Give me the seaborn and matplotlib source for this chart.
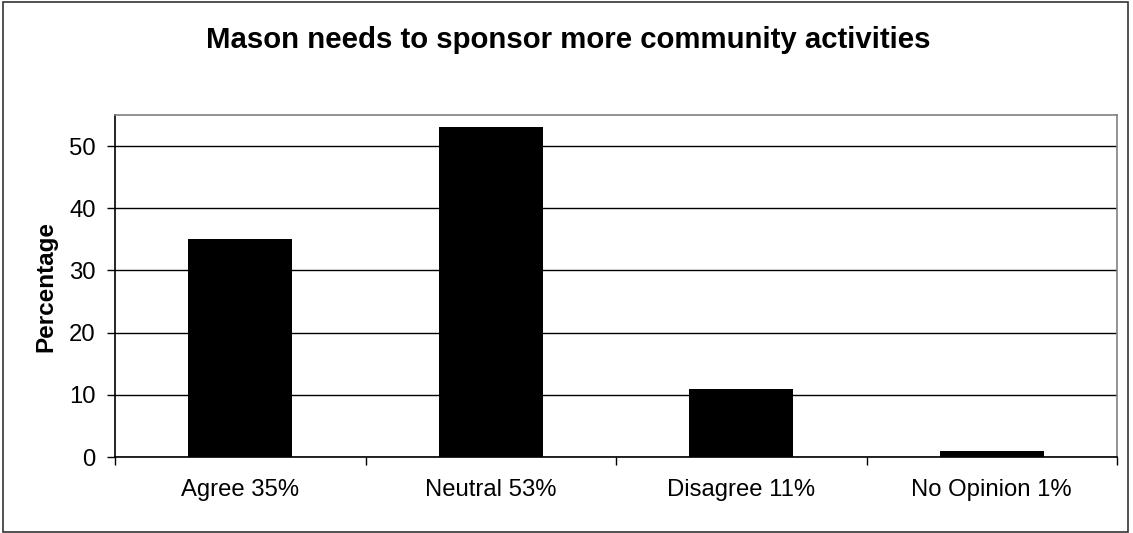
import matplotlib
matplotlib.use("Agg")
import matplotlib.pyplot as plt
import seaborn as sns
import pandas as pd
from matplotlib.patches import Rectangle

categories = ["Agree 35%", "Neutral 53%", "Disagree 11%", "No Opinion 1%"]
values = [35, 53, 11, 1]
y_ticks = [0, 10, 20, 30, 40, 50]
title = "Mason needs to sponsor more community activities"
ylabel = "Percentage"

sns.set_theme(style="white")
plt.rcParams['font.family'] = ['Liberation Sans', 'DejaVu Sans']

W, H = 1133, 533
fig = plt.figure(figsize=(W / 100, H / 100), dpi=100)
left, right, top, bottom = 115, 1117, 115, 457
ax = fig.add_axes([left / W, (H - bottom) / H, (right - left) / W, (bottom - top) / H])

df = pd.DataFrame({"cat": categories, "val": values})
sns.barplot(data=df, x="cat", y="val", color="black", width=0.415,
            edgecolor="black", linewidth=0, saturation=1, ax=ax, zorder=3)

ax.set_xlim(-0.5, len(categories) - 0.5)
ax.set_ylim(0, 55)
ax.set_yticks(y_ticks)
ax.yaxis.grid(True, color="black", linewidth=1.0, zorder=0)
ax.set_axisbelow(True)
ax.set_xticks(range(len(categories)))
ax.set_xticklabels(categories)
ax.set_xticks([i - 0.5 for i in range(len(categories) + 1)], minor=True)
ax.tick_params(axis="x", which="major", length=0, pad=16, labelsize=17.2, colors="black")
ax.tick_params(axis="x", which="minor", length=6, width=1, color="black", direction="out", bottom=True)
ax.tick_params(axis="y", which="major", length=6, width=1, color="black", direction="out",
               left=True, pad=8, labelsize=17.2, labelcolor="black")
ax.set_xlabel("")
ax.set_ylabel(ylabel, fontsize=17.5, fontweight="bold", labelpad=8, color="black")

for s in ["left", "bottom"]:
    ax.spines[s].set_color("black")
    ax.spines[s].set_linewidth(1.2)
for s in ["top", "right"]:
    ax.spines[s].set_color("#808080")
    ax.spines[s].set_linewidth(1.2)
    ax.spines[s].set_visible(True)

fig.text(568 / W, 1 - 40 / H, title, ha="center", va="center",
         fontsize=21.2, fontweight="bold", color="black")

fig.patches.append(Rectangle((3 / W, 1.5 / H), (1128 - 3) / W, (531 - 1.5) / H,
                             transform=fig.transFigure, fill=False,
                             edgecolor="#333333", linewidth=1.2))

fig.savefig("out.png", dpi=100, facecolor="white")
